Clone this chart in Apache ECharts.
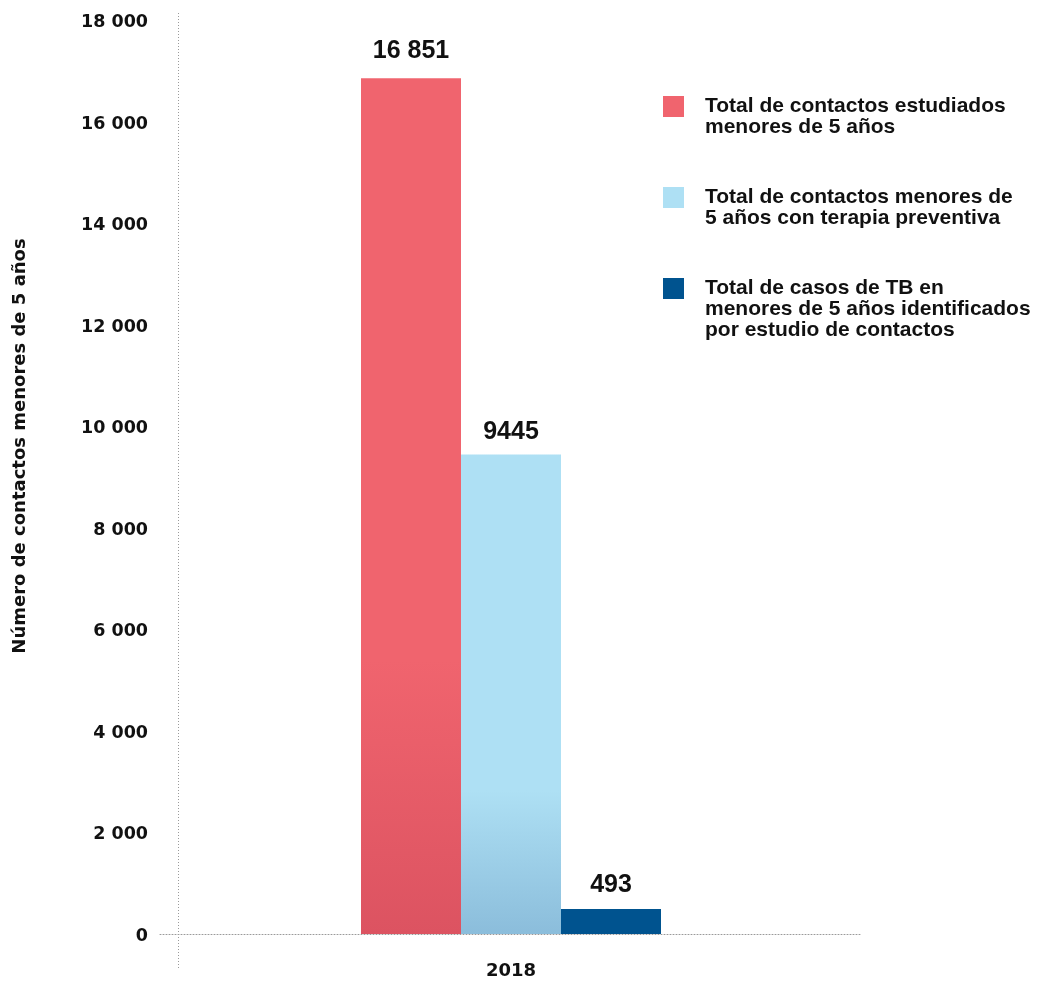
<!DOCTYPE html>
<html>
<head>
<meta charset="utf-8">
<script src="https://cdn.jsdelivr.net/npm/echarts@6/dist/echarts.min.js"></script>
<style>
  html, body { margin: 0; padding: 0; background: #ffffff; }
  #chart { width: 1042px; height: 982px; }
</style>
</head>
<body>
<div id="chart"></div>
<script>
// Contact investigation among children under 5, 2018
const categories = ['2018'];
const seriesNames = [
  'Total de contactos estudiados\nmenores de 5 años',
  'Total de contactos menores de\n5 años con terapia preventiva',
  'Total de casos de TB en\nmenores de 5 años identificados\npor estudio de contactos'
];
const estudiados = [16851];
const terapia = [9445];
const casosTB = [493];
const yMin = 0, yMax = 18000, yStep = 2000;

const AXIS_FONT = 'DejaVu Sans';
const TEXT_FONT = 'Liberation Sans, Arial, Helvetica, sans-serif';
const RULE_COLOR = '#9a9a9a';

// thousands grouped with a space: "18 000", "2 000"
function groupAll(v) {
  return String(v).replace(/\B(?=(\d{3})+(?!\d))/g, ' ');
}
// value labels only group numbers of five digits or more: "16 851", "9445"
function groupLarge(v) {
  return Math.abs(v) >= 10000 ? groupAll(v) : String(v);
}

function vGrad(stops) {
  return new echarts.graphic.LinearGradient(0, 0, 0, 1,
    stops.map(([offset, color]) => ({ offset, color })));
}

const fills = [
  vGrad([[0, '#f0646e'], [0.68, '#f0646e'], [1, '#dc5361']]),
  vGrad([[0, '#aee0f4'], [0.7, '#aee0f4'], [1, '#8bbddb']]),
  '#00538f'
];
const legendColors = ['#f0646e', '#aee0f4', '#00538f'];

function barSeries(i, values, labelDist) {
  return {
    name: seriesNames[i],
    type: 'bar',
    data: values,
    barWidth: 100,
    barGap: '0%',
    itemStyle: { color: fills[i] },
    label: {
      show: true,
      position: 'top',
      distance: labelDist,
      formatter: p => groupLarge(p.value),
      fontFamily: TEXT_FONT,
      fontWeight: 'bold',
      fontSize: 25,
      color: '#111'
    }
  };
}

// one legend block per series; the label text is centred on its swatch,
// so blank leading lines bring the first text line level with the swatch
const LINE_H = 21;
function legendBlock(i, iconCenterY) {
  const n = seriesNames[i].split('\n').length;
  const lead = n - 1;
  const totalLines = n + lead;
  return {
    data: [{ name: seriesNames[i], itemStyle: { color: legendColors[i] } }],
    formatter: name => '\n'.repeat(lead) + name,
    orient: 'vertical',
    left: 663,
    top: iconCenterY - totalLines * LINE_H / 2,
    padding: 0,
    icon: 'rect',
    itemWidth: 21,
    itemHeight: 21,
    selectedMode: false,
    textStyle: {
      fontFamily: TEXT_FONT,
      fontWeight: 'bold',
      fontSize: 21,
      lineHeight: LINE_H,
      color: '#111',
      padding: [0, 0, 0, 16]
    }
  };
}

const chart = echarts.init(document.getElementById('chart'), null, { renderer: 'canvas' });
chart.setOption({
  animation: false,
  backgroundColor: '#ffffff',
  grid: { left: 160, right: 180, top: 20, bottom: 48, containLabel: false },
  legend: [legendBlock(0, 106.5), legendBlock(1, 197.5), legendBlock(2, 288.5)],
  xAxis: {
    type: 'category',
    data: categories,
    offset: 3,
    axisLine: { show: true, lineStyle: { color: RULE_COLOR, width: 1, type: [1, 2] } },
    axisTick: { show: false },
    axisLabel: {
      margin: 25,
      fontFamily: AXIS_FONT,
      fontWeight: 'bold',
      fontSize: 18,
      color: '#111'
    }
  },
  yAxis: {
    type: 'value',
    min: yMin,
    max: yMax,
    interval: yStep,
    name: 'Número de contactos menores de 5 años',
    nameLocation: 'middle',
    nameGap: 131,
    nameTextStyle: {
      fontFamily: AXIS_FONT,
      fontWeight: 'bold',
      fontSize: 18,
      color: '#111',
      padding: [0, 0, 0, 62]
    },
    axisLine: { show: false },
    axisTick: { show: false },
    splitLine: { show: false },
    axisLabel: {
      margin: 12,
      formatter: v => groupAll(v),
      fontFamily: AXIS_FONT,
      fontWeight: 'bold',
      fontSize: 17.5,
      color: '#111',
      verticalAlign: 'top',
      lineHeight: 5
    }
  },
  // vertical dotted rule of the value axis, running past the plot area
  graphic: [{
    type: 'line',
    shape: { x1: 178.5, y1: 13, x2: 178.5, y2: 968 },
    style: { stroke: RULE_COLOR, lineWidth: 1, lineDash: [1, 2] },
    silent: true
  }],
  series: [
    barSeries(0, estudiados, 15),
    barSeries(1, terapia, 10),
    barSeries(2, casosTB, 11)
  ]
});
</script>
</body>
</html>
